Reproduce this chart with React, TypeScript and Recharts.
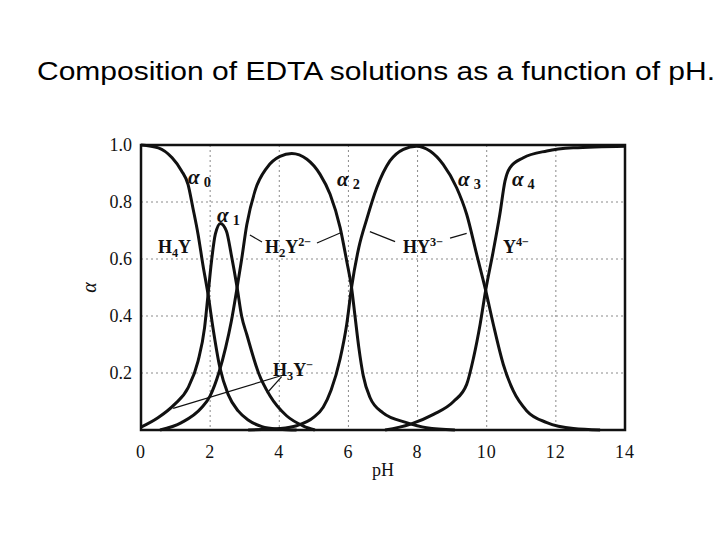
import React from 'react';
import {
  LineChart, Line, XAxis, YAxis, CartesianGrid, ReferenceArea, ReferenceDot, ReferenceLine,
} from 'recharts';

// ---------- data ----------
const PH_TICKS = [0, 2, 4, 6, 8, 10, 12, 14];
const ALPHA_TICKS = [0.2, 0.4, 0.6, 0.8, 1.0];

// alpha0 : H4Y
const PH_A0 = [0, 0.5, 0.9, 1.17, 1.36, 1.5, 1.65, 1.79, 1.94, 2.08, 2.28, 2.52, 2.81, 3.1, 3.5, 4.0, 4.5];
const A0 = [1.0, 0.99, 0.955, 0.91, 0.862, 0.78, 0.687, 0.58, 0.476, 0.36, 0.22, 0.125, 0.067, 0.035, 0.012, 0.003, 0.0];

// alpha1 : H3Y-
const PH_A1 = [0, 0.49, 0.97, 1.36, 1.65, 1.84, 1.94, 2.04, 2.15, 2.3, 2.47, 2.61, 2.78, 2.91, 3.06, 3.4, 3.73, 4.21, 4.7, 5.03];
const A1 = [0.01, 0.043, 0.09, 0.148, 0.242, 0.36, 0.476, 0.593, 0.687, 0.725, 0.698, 0.616, 0.5, 0.4, 0.335, 0.2, 0.12, 0.05, 0.014, 0.0];

// alpha2 : H2Y2-
const PH_A2 = [0.55, 1.17, 1.75, 2.0, 2.25, 2.45, 2.61, 2.78, 2.9, 3.06, 3.3, 3.64, 4.02, 4.36, 4.8, 5.18, 5.47, 5.76, 5.95, 6.09, 6.19, 6.3, 6.43, 6.62, 7.0, 7.68, 8.26, 9.08];
const A2 = [0.0, 0.026, 0.078, 0.12, 0.2, 0.29, 0.38, 0.5, 0.59, 0.72, 0.84, 0.92, 0.96, 0.97, 0.95, 0.897, 0.827, 0.71, 0.593, 0.5, 0.4, 0.29, 0.19, 0.115, 0.06, 0.026, 0.008, 0.0];

// alpha3 : HY3-
const PH_A3 = [3.1, 4.0, 4.5, 5.0, 5.27, 5.5, 5.76, 5.95, 6.09, 6.3, 6.53, 6.82, 7.2, 7.59, 7.97, 8.36, 8.74, 9.13, 9.42, 9.71, 9.97, 10.19, 10.48, 10.77, 11.16, 11.74, 12.51, 13.28];
const A3 = [0.0, 0.005, 0.015, 0.045, 0.08, 0.14, 0.25, 0.37, 0.5, 0.64, 0.74, 0.85, 0.944, 0.985, 0.996, 0.979, 0.932, 0.85, 0.757, 0.616, 0.49, 0.371, 0.23, 0.137, 0.067, 0.026, 0.005, 0.0];

// alpha4 : Y4-
const PH_A4 = [7.06, 7.78, 8.46, 9.04, 9.42, 9.62, 9.81, 9.97, 10.19, 10.38, 10.53, 10.67, 11.06, 11.74, 12.5, 14];
const A4 = [0.0, 0.02, 0.055, 0.1, 0.16, 0.254, 0.371, 0.49, 0.628, 0.757, 0.874, 0.92, 0.955, 0.979, 0.99, 0.996];

const TITLE = 'Composition of EDTA solutions as a function of pH.';
const X_LABEL = 'pH';
const Y_LABEL = 'α';

type Part = { t: string; s?: 'sub' | 'sup' };
// annotation anchors (pH, alpha) and texts
const CURVE_LABELS: { x: number; y: number; parts: Part[] }[] = [
  { x: 1.36, y: 0.863, parts: [{ t: 'α' }, { t: '0', s: 'sub' }] },
  { x: 2.2, y: 0.73, parts: [{ t: 'α' }, { t: '1', s: 'sub' }] },
  { x: 5.67, y: 0.856, parts: [{ t: 'α' }, { t: '2', s: 'sub' }] },
  { x: 9.17, y: 0.856, parts: [{ t: 'α' }, { t: '3', s: 'sub' }] },
  { x: 10.73, y: 0.856, parts: [{ t: 'α' }, { t: '4', s: 'sub' }] },
];
const SPECIES_LABELS: { x: number; y: number; parts: Part[] }[] = [
  { x: 0.49, y: 0.621, parts: [{ t: 'H' }, { t: '4', s: 'sub' }, { t: 'Y' }] },
  { x: 3.59, y: 0.621, parts: [{ t: 'H' }, { t: '2', s: 'sub' }, { t: 'Y' }, { t: '2−', s: 'sup' }] },
  { x: 7.58, y: 0.621, parts: [{ t: 'HY' }, { t: '3−', s: 'sup' }] },
  { x: 10.47, y: 0.621, parts: [{ t: 'Y' }, { t: '4−', s: 'sup' }] },
  { x: 3.82, y: 0.19, parts: [{ t: 'H' }, { t: '3', s: 'sub' }, { t: 'Y' }, { t: '−', s: 'sup' }] },
];
const LEADERS: [number, number, number, number][] = [
  [3.15, 0.684, 3.5, 0.66],
  [5.09, 0.656, 5.76, 0.691],
  [6.62, 0.696, 7.35, 0.661],
  [8.94, 0.673, 9.42, 0.69],
  [4.12, 0.193, 0.93, 0.076],
  [4.07, 0.187, 3.64, 0.129],
];

const toPoints = (xs: number[], ys: number[]) => xs.map((x, i) => ({ x, y: ys[i] }));
const SERIES = [
  toPoints(PH_A0, A0),
  toPoints(PH_A1, A1),
  toPoints(PH_A2, A2),
  toPoints(PH_A3, A3),
  toPoints(PH_A4, A4),
];

const INK = '#111';
const SERIF = '"Liberation Serif", "DejaVu Serif", serif';

function RichText({ cx, cy, parts, size, greek }: { cx: number; cy: number; parts: Part[]; size: number; greek?: boolean }) {
  const out: React.ReactNode[] = [];
  let cur = 0;
  parts.forEach((p, i) => {
    let target = 0;
    let fs = size;
    if (p.s === 'sub') { target = greek ? 3 : 4; fs = size * 0.68; }
    if (p.s === 'sup') { target = -7; fs = size * 0.68; }
    const dy = target - cur;
    cur = target;
    out.push(
      <tspan key={i} dy={dy} fontSize={fs} dx={greek && p.s ? 4 : 0}
        fontStyle={greek && !p.s ? 'italic' : 'normal'}>{p.t}</tspan>
    );
  });
  return (
    <text x={cx} y={cy} fontFamily={SERIF} fontSize={size} fontWeight="bold" fill={INK}>{out}</text>
  );
}

export default function App() {
  return (
    <div style={{ position: 'relative', width: 720, height: 540, background: '#fff' }}>
      <style>{'body{margin:0;background:#fff}'}</style>
      <LineChart width={720} height={540} margin={{ top: 145, right: 95, bottom: 50, left: 0 }}>
        <CartesianGrid stroke="#8a8a8a" strokeDasharray="2 3" strokeWidth={1} />
        <XAxis
          type="number" dataKey="x" domain={[0, 14]} ticks={PH_TICKS} height={60}
          axisLine={false} tickLine={false} tickSize={0} tickMargin={15}
          tick={{ fontFamily: SERIF, fontSize: 18, fill: INK, letterSpacing: 1 }}
          label={{
            content: (p: any) => (
              <text x={p.viewBox.x + p.viewBox.width / 2} y={476} textAnchor="middle"
                fontFamily={SERIF} fontSize={18} fill={INK}>{X_LABEL}</text>
            ),
          }}
        />
        <YAxis
          type="number" domain={[0, 1]} ticks={ALPHA_TICKS} width={141}
          axisLine={false} tickLine={false} tickSize={0} tickMargin={9}
          tickFormatter={(v: number) => v.toFixed(1)}
          tick={{ fontFamily: SERIF, fontSize: 18, fill: INK }}
          label={{
            content: (p: any) => {
              const cy = p.viewBox.y + p.viewBox.height / 2;
              return (
                <text x={96} y={cy} textAnchor="middle" transform={`rotate(-90 96 ${cy})`}
                  fontFamily={SERIF} fontStyle="italic" fontSize={20} fill={INK}>{Y_LABEL}</text>
              );
            },
          }}
        />
        {LEADERS.map((l, i) => (
          <ReferenceLine key={'l' + i} segment={[{ x: l[0], y: l[1] }, { x: l[2], y: l[3] }]}
            stroke={INK} strokeWidth={1.2} ifOverflow="visible" />
        ))}
        {SERIES.map((d, i) => (
          <Line key={i} data={d} dataKey="y" type="monotone" stroke={INK} strokeWidth={3}
            dot={false} activeDot={false} isAnimationActive={false} />
        ))}
        <ReferenceArea x1={0} x2={14} y1={0} y2={1} fill="none" fillOpacity={0}
          stroke={INK} strokeWidth={2.5} ifOverflow="visible" />
        {CURVE_LABELS.map((a, i) => (
          <ReferenceDot key={'c' + i} x={a.x} y={a.y} r={0} ifOverflow="visible"
            shape={(p: any) => <RichText cx={p.cx} cy={p.cy} parts={a.parts} size={21} greek />} />
        ))}
        {SPECIES_LABELS.map((a, i) => (
          <ReferenceDot key={'s' + i} x={a.x} y={a.y} r={0} ifOverflow="visible"
            shape={(p: any) => <RichText cx={p.cx} cy={p.cy} parts={a.parts} size={18} />} />
        ))}
      </LineChart>
      <svg width={720} height={120} style={{ position: 'absolute', left: 0, top: 0 }}>
        <text x={37} y={80} fontFamily='"Liberation Sans", Arial, sans-serif' fontSize={26}
          textLength={678} lengthAdjust="spacingAndGlyphs" fill="#000">{TITLE}</text>
      </svg>
    </div>
  );
}
